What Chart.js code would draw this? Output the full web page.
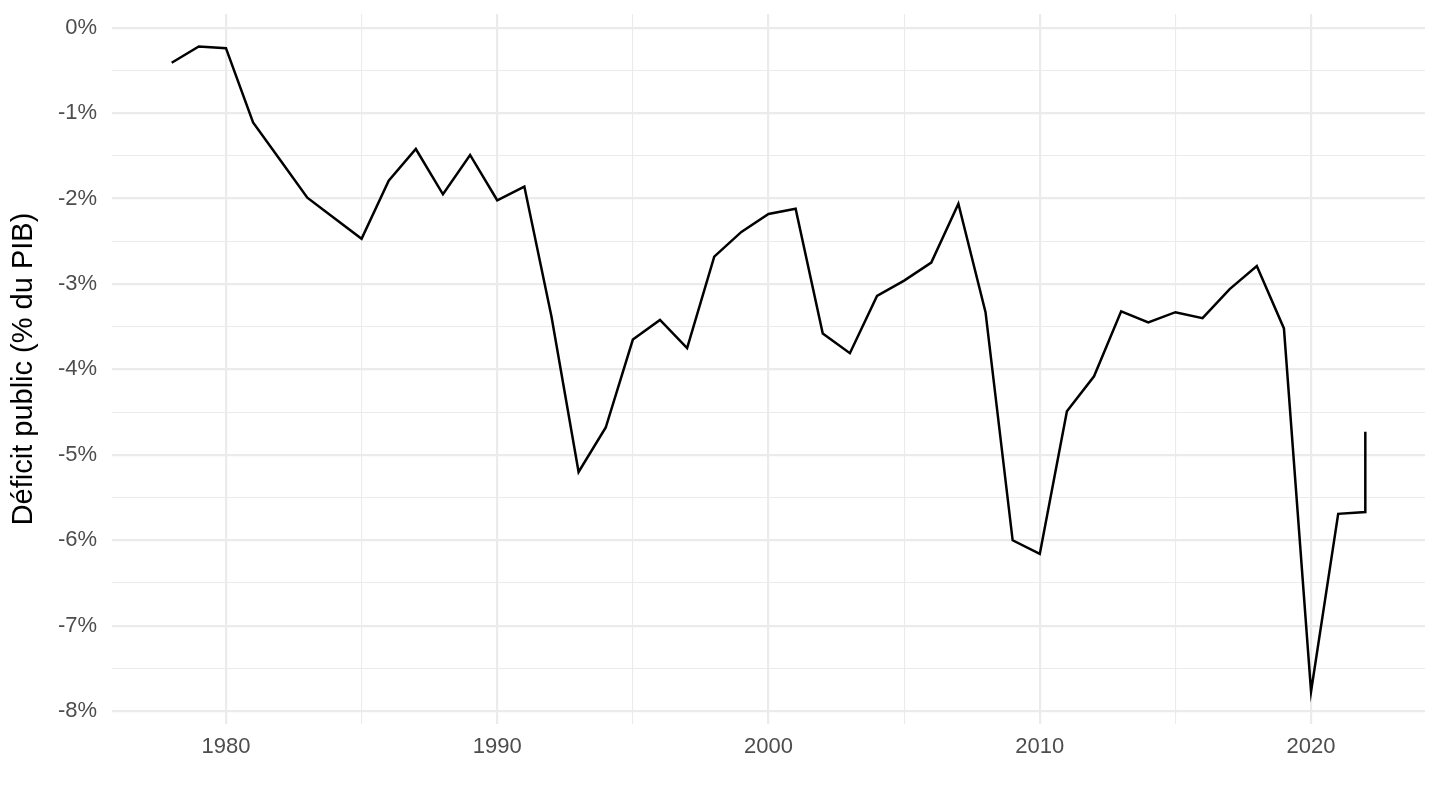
<!DOCTYPE html>
<html>
<head>
<meta charset="utf-8">
<script src="https://cdn.jsdelivr.net/npm/chart.js@4/dist/chart.umd.min.js"></script>
<style>
  html, body { margin: 0; padding: 0; background: #fff; }
  #wrap { width: 1440px; height: 810px; }
</style>
</head>
<body>
<div id="wrap"><canvas id="myChart" width="1440" height="810"></canvas></div>
<script>
  // Déficit public, % du PIB (2022 apparaît deux fois : deux estimations)
  const years = [
    1978, 1979, 1980, 1981, 1982, 1983, 1984, 1985, 1986, 1987,
    1988, 1989, 1990, 1991, 1992, 1993, 1994, 1995, 1996, 1997,
    1998, 1999, 2000, 2001, 2002, 2003, 2004, 2005, 2006, 2007,
    2008, 2009, 2010, 2011, 2012, 2013, 2014, 2015, 2016, 2017,
    2018, 2019, 2020, 2021, 2022, 2022
  ]
  const deficit = [
    -0.41, -0.22, -0.24, -1.11, -1.55, -1.99, -2.23, -2.47, -1.79, -1.42,
    -1.95, -1.49, -2.02, -1.86, -3.38, -5.20, -4.68, -3.65, -3.42, -3.75,
    -2.68, -2.39, -2.18, -2.12, -3.58, -3.81, -3.14, -2.96, -2.75, -2.06,
    -3.33, -6.00, -6.16, -4.49, -4.08, -3.32, -3.45, -3.33, -3.40, -3.06,
    -2.79, -3.52, -7.77, -5.69, -5.67, -4.73
  ]
  const yTicks = [0, -0.5, -1, -1.5, -2, -2.5, -3, -3.5, -4, -4.5, -5, -5.5, -6, -6.5, -7, -7.5, -8]
  const xTicks = [1980, 1985, 1990, 1995, 2000, 2005, 2010, 2015, 2020]

  const font = "'Liberation Sans', Arial, sans-serif"
  const gridColor = '#EBEBEB'

  const points = years.map((x, i) => ({ x: x, y: deficit[i] }))

  new Chart(document.getElementById('myChart'), {
    type: 'line',
    data: {
      datasets: [{
        data: points,
        borderColor: '#000',
        borderWidth: 2.5,
        pointRadius: 0,
        tension: 0,
        fill: false
      }]
    },
    options: {
      responsive: false,
      animation: false,
      layout: { padding: { top: 14, right: 15, left: 0, bottom: 0 } },
      plugins: {
        legend: { display: false },
        tooltip: { enabled: false }
      },
      scales: {
        x: {
          type: 'linear',
          min: 1975.8,
          max: 2024.2,
          afterBuildTicks: s => { s.ticks = xTicks.map(v => ({ value: v })) },
          afterFit: s => {
            s.height = 86
            s.paddingLeft = 0
            s.paddingRight = 0
          },
          border: { display: false },
          grid: {
            drawTicks: false,
            color: gridColor,
            lineWidth: c => (c.tick && c.tick.value % 10 === 0 ? 2.2 : 1.1)
          },
          ticks: {
            padding: 10,
            color: '#4D4D4D',
            font: { family: font, size: 22 },
            callback: v => (v % 10 === 0 ? String(v) : '')
          }
        },
        y: {
          type: 'linear',
          min: -8.15,
          max: 0.16,
          afterBuildTicks: s => { s.ticks = yTicks.map(v => ({ value: v })) },
          afterFit: s => {
            s.width = 112
            s.paddingTop = 0
            s.paddingBottom = 0
          },
          border: { display: false },
          grid: {
            drawTicks: false,
            color: gridColor,
            lineWidth: c => (c.tick && Number.isInteger(c.tick.value) ? 2.2 : 1.1)
          },
          ticks: {
            padding: 15,
            color: '#4D4D4D',
            font: { family: font, size: 22 },
            callback: v => (Number.isInteger(v) ? v + '%' : '')
          },
          title: {
            display: true,
            text: 'Déficit public (% du PIB)',
            color: '#000',
            font: { family: font, size: 29 },
            padding: { top: 7, bottom: 0 }
          }
        }
      }
    }
  })
</script>
</body>
</html>
